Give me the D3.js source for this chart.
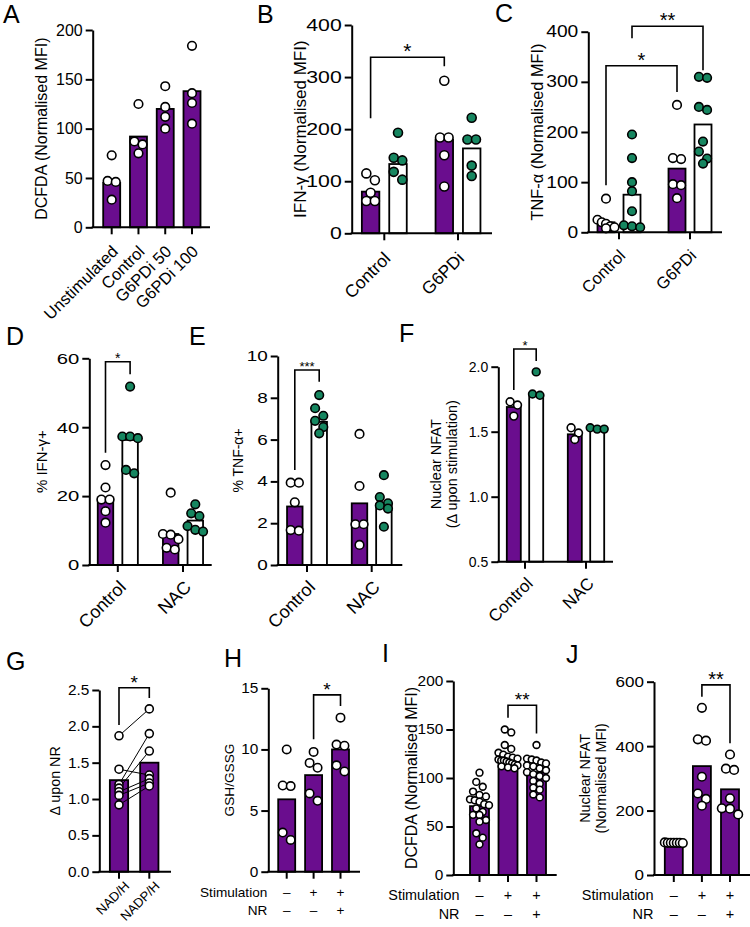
<!DOCTYPE html>
<html>
<head>
<meta charset="utf-8">
<script src="https://cdn.jsdelivr.net/npm/d3@7"></script>
<style>
  body { margin: 0; background: #fff; }
  text { font-family: "Liberation Sans", Arial, Helvetica, sans-serif; fill: #000; }
</style>
</head>
<body>
<svg id="fig" width="750" height="927"></svg>
<script>
// ---------- data ----------
// A: DCFDA
const catsA = ["Unstimulated", "Control", "G6PDi 50", "G6PDi 100"];
const meanA = [45, 92, 120, 138];
const ptsA = [[73, 47, 46, 28], [125, 87, 84, 75], [143, 122, 112, 100], [184, 136, 126, 105]];

// B: IFN-g (purple = first bar, white = second bar)
const catsBC = ["Control", "G6PDi"];
const meanB1 = [80, 180];
const meanB2 = [133, 163];
const ptsB1 = [[115, 102, 78, 62, 62], [293, 184, 184, 150, 90]];
const ptsB2 = [[193, 145, 140, 118, 103], [222, 180, 180, 130, 110]];

// C: TNF-a
const meanC1 = [20, 127];
const meanC2 = [75, 215];
const ptsC1 = [[67, 25, 20, 17, 12, 10, 8], [254, 148, 146, 96, 94, 68]];
const ptsC2 = [[195, 148, 100, 82, 42, 14, 12, 10], [308, 310, 250, 244, 181, 161, 147, 137]];

// D, E, F: Control / NAC
const catsDEF = ["Control", "NAC"];
const meanD1 = [19.6, 9];
const meanD2 = [36.3, 12.9];
const ptsD1 = [[29, 22.5, 19, 19, 15.6, 12.3], [21, 9, 8.8, 7.5, 5, 4.5]];
const ptsD2 = [[51.8, 37.3, 37.3, 36.8, 27.6, 26.6], [17.6, 15, 14.2, 11.3, 10.2, 9.7]];

const meanE1 = [2.8, 2.95];
const meanE2 = [6.85, 2.9];
const ptsE1 = [[3.94, 3.94, 3.0, 1.67, 1.64], [6.27, 3.78, 1.95, 1.95, 0.96]];
const ptsE2 = [[8.13, 7.5, 7.14, 6.9, 6.6, 6.3], [4.3, 3.25, 2.95, 2.85, 2.7, 1.83]];

const meanF1 = [1.69, 1.48];
const meanF2 = [1.78, 1.53];
const ptsF1 = [[1.73, 1.705, 1.62], [1.53, 1.49, 1.44]];
const ptsF2 = [[1.96, 1.78, 1.79], [1.52, 1.53, 1.52]];

// G: paired NAD/H vs NADP/H
const catsG = ["NAD/H", "NADP/H"];
const meanG = [1.26, 1.50];
const nadG = [1.87, 1.41, 1.20, 1.15, 1.10, 1.05, 0.92];
const nadpG = [2.24, 1.33, 1.90, 1.66, 1.28, 1.22, 1.18];

// H, I, J: stimulation / NR
const catsHIJ = ["none", "stim", "stimNR"];
const stimSigns = ["\u2013", "+", "+"];
const nrSigns = ["\u2013", "\u2013", "+"];

const meanH = [5.92, 7.9, 10.0];
const ptsH = [[10.0, 7.0, 7.05, 3.2, 2.6], [9.8, 8.9, 8.5, 6.4, 5.8], [12.6, 10.3, 10.4, 8.7, 8.2]];

const meanI = [71, 122, 106];
const ptsI = [
  [105.5, 96, 91, 86, 82.5, 81, 78, 77, 75.6, 73, 72, 68.7, 65, 62, 61.9, 56.7, 55, 43, 38.5, 31.6],
  [150, 147, 134, 130, 126, 124, 122, 121, 120, 119, 118, 118, 117, 116, 115, 114, 113, 112, 111, 110],
  [134, 120, 119, 118, 116, 115, 113, 112, 110, 108, 106, 104, 102, 100, 97, 94, 90, 88, 83, 80]
];

const meanJ = [100, 338, 266];
const ptsJ = [[101, 100, 100, 100, 100, 100, 99], [519, 421, 417, 305, 253, 236, 215], [374, 330, 326, 238, 207, 206, 188]];

// ---------- drawing ----------
const PURPLE = "#6a0d8e";
const GREEN = "#168660";
const svg = d3.select("#fig");

// GraphPad-like scatter: points close in y share a row, centred on the bar
function scatterRows(vals, y, cx, r, maxHalf) {
  const d = 2 * r;
  const items = vals.map(v => ({ v, py: y(v) })).sort((a, b) => a.py - b.py);
  const rows = [];
  items.forEach(it => {
    const row = rows[rows.length - 1];
    if (row && it.py - row[0].py < d * 0.9) row.push(it);
    else rows.push([it]);
  });
  const out = [];
  rows.forEach(row => {
    const n = row.length;
    let step = d * 0.95;
    if (n > 1 && (n - 1) * step / 2 > maxHalf) step = 2 * maxHalf / (n - 1);
    row.forEach((it, i) => out.push({ x: cx + (i - (n - 1) / 2) * step, y: it.py }));
  });
  return out;
}

function drawPanel(p) {
  const g = svg.append("g");
  const y = d3.scaleLinear().domain(p.domain).range([p.yBot, p.yTop]);
  const x = d3.scalePoint().domain(p.cats).range(p.catRange);
  const base = y(p.domain[0]);

  // bars
  p.series.forEach(s => {
    g.selectAll(null).data(p.cats).enter().append("rect")
      .attr("x", c => x(c) + s.off - p.barW / 2)
      .attr("y", (c, i) => y(s.means[i]))
      .attr("width", p.barW)
      .attr("height", (c, i) => base - y(s.means[i]))
      .attr("fill", s.fill)
      .attr("stroke", "#000")
      .attr("stroke-width", 1.8);
  });

  // paired lines (panel G)
  if (p.pairs) {
    const [a, b] = p.pairs;
    g.selectAll(null).data(a).enter().append("line")
      .attr("x1", x(p.cats[0])).attr("y1", d => y(d))
      .attr("x2", x(p.cats[1])).attr("y2", (d, i) => y(b[i]))
      .attr("stroke", "#000").attr("stroke-width", 1);
  }

  // points
  p.series.forEach(s => {
    p.cats.forEach((c, i) => {
      const pos = scatterRows(s.pts[i], y, x(c) + s.off, p.r, p.spread === undefined ? p.barW / 2 : p.spread);
      g.selectAll(null).data(pos).enter().append("circle")
        .attr("cx", d => d.x).attr("cy", d => d.y).attr("r", p.r)
        .attr("fill", s.dot).attr("stroke", "#000").attr("stroke-width", 1.6);
    });
  });

  // y axis
  const yAxis = d3.axisLeft(y).tickValues(p.ticks).tickSize(7).tickSizeOuter(0).tickPadding(3);
  if (p.fmt) yAxis.tickFormat(d3.format(p.fmt));
  const ya = g.append("g").attr("transform", `translate(${p.ax},0)`).call(yAxis);
  ya.select(".domain").attr("stroke-width", 2);
  ya.selectAll(".tick line").attr("stroke-width", 2);
  ya.selectAll(".tick text")
    .attr("font-size", p.fs)
    .attr("font-family", "Liberation Sans, Arial, sans-serif")
    .attr("fill", "#000")
    .attr("x", -10 / p.sx)
    .attr("transform", `scale(${p.sx},1)`);

  // x axis
  g.append("line").attr("x1", p.ax - 1).attr("x2", p.xEnd).attr("y1", base).attr("y2", base)
    .attr("stroke", "#000").attr("stroke-width", 2);
  g.selectAll(null).data(p.cats).enter().append("line")
    .attr("x1", c => x(c)).attr("x2", c => x(c)).attr("y1", base).attr("y2", base + 7)
    .attr("stroke", "#000").attr("stroke-width", 2);

  // x labels
  if (p.xlab) {
    g.selectAll(null).data(p.cats).enter().append("text")
      .attr("transform", c => `translate(${x(c) + p.xlab.dx},${base + p.xlab.dy}) rotate(-45)`)
      .attr("text-anchor", "end")
      .attr("dominant-baseline", "central")
      .attr("font-size", p.xlab.fs)
      .text(c => c);
  }
  if (p.signs) {
    const rows = [["Stimulation", stimSigns], ["NR", nrSigns]];
    rows.forEach(([lab, signs], k) => {
      const yy = p.signs.ys[k];
      g.append("text").attr("x", p.signs.lx).attr("y", yy)
        .attr("text-anchor", "end").attr("dominant-baseline", "central")
        .attr("font-size", p.signs.fs).text(lab);
      g.selectAll(null).data(signs).enter().append("text")
        .attr("x", (d, i) => x(p.cats[i])).attr("y", yy)
        .attr("text-anchor", "middle").attr("dominant-baseline", "central")
        .attr("font-size", p.signs.fs).text(d => d);
    });
  }

  // axis title
  p.title.forEach((t, k) => {
    g.append("text")
      .attr("transform", `translate(${p.titleX[k]},${(p.yBot + p.yTop) / 2}) rotate(-90)`)
      .attr("text-anchor", "middle")
      .attr("dominant-baseline", "central")
      .attr("font-size", p.titleFs)
      .text(t);
  });

  // significance brackets
  (p.brackets || []).forEach(b => {
    const x1 = x(p.cats[b.from[0]]) + p.series[b.from[1]].off;
    const x2 = x(p.cats[b.to[0]]) + p.series[b.to[1]].off;
    g.append("path")
      .attr("d", `M${x1},${y(b.y1)}V${y(b.top)}H${x2}V${y(b.y2)}`)
      .attr("fill", "none").attr("stroke", "#000").attr("stroke-width", 1.6);
    g.append("text").attr("x", (x1 + x2) / 2).attr("y", y(b.top) + 1)
      .attr("text-anchor", "middle").attr("font-size", b.fs).text(b.label);
  });

  // panel letter
  svg.append("text").attr("x", p.lx).attr("y", p.ly).attr("font-size", 25).text(p.letter);
}

const one = (means, pts) => [{ means, pts, off: 0, fill: PURPLE, dot: "#fff" }];
const two = (m1, p1, m2, p2, off) => [
  { means: m1, pts: p1, off: -off, fill: PURPLE, dot: "#fff" },
  { means: m2, pts: p2, off: off, fill: "#fff", dot: GREEN }
];

drawPanel({
  letter: "A", lx: 3, ly: 23, ax: 92.7, xEnd: 210, yBot: 227.3, yTop: 30,
  domain: [0, 200], ticks: [0, 50, 100, 150, 200], fs: 16, sx: 1.0,
  title: ["DCFDA (Normalised MFI)"], titleX: [41], titleFs: 16,
  cats: catsA, catRange: [111.7, 192], barW: 17, r: 4.3,
  series: one(meanA, ptsA), xlab: { dx: 3, dy: 21, fs: 16.5 }
});

drawPanel({
  letter: "B", lx: 257, ly: 23, ax: 351.7, xEnd: 492, yBot: 233.3, yTop: 25,
  domain: [0, 400], ticks: [0, 100, 200, 300, 400], fs: 17, sx: 1.25,
  title: ["IFN-\u03b3 (Normalised MFI)"], titleX: [300], titleFs: 17,
  cats: catsBC, catRange: [384.3, 458], barW: 17.5, r: 4.5,
  series: two(meanB1, ptsB1, meanB2, ptsB2, 13.7), xlab: { dx: 3, dy: 22, fs: 17.5 },
  brackets: [{ from: [0, 0], to: [1, 0], top: 338, y1: 221, y2: 321, label: "*", fs: 21 }]
});

drawPanel({
  letter: "C", lx: 495, ly: 22, ax: 588.3, xEnd: 722, yBot: 232.3, yTop: 31.7,
  domain: [0, 400], ticks: [0, 100, 200, 300, 400], fs: 16, sx: 1.2,
  title: ["TNF-\u03b1 (Normalised MFI)"], titleX: [536.7], titleFs: 16.3,
  cats: catsBC, catRange: [619, 690], barW: 17, r: 4.3,
  series: two(meanC1, ptsC1, meanC2, ptsC2, 13), xlab: { dx: 3, dy: 20, fs: 16.5 },
  brackets: [
    { from: [0, 0], to: [1, 0], top: 332, y1: 94, y2: 280, label: "*", fs: 20 },
    { from: [0, 1], to: [1, 1], top: 411, y1: 387, y2: 323, label: "**", fs: 20 }
  ]
});

drawPanel({
  letter: "D", lx: 6, ly: 345, ax: 89.3, xEnd: 211.7, yBot: 565, yTop: 358.3,
  domain: [0, 60], ticks: [0, 20, 40, 60], fs: 15, sx: 1.35,
  title: ["% IFN-\u03b3+"], titleX: [41], titleFs: 15,
  cats: catsDEF, catRange: [117.8, 183], barW: 15.5, r: 4.3,
  series: two(meanD1, ptsD1, meanD2, ptsD2, 12.3), xlab: { dx: 5, dy: 19, fs: 18 },
  brackets: [{ from: [0, 0], to: [0, 1], top: 59, y1: 32.6, y2: 55.4, label: "*", fs: 14 }]
});

drawPanel({
  letter: "E", lx: 189, ly: 345, ax: 277.7, xEnd: 402.3, yBot: 565, yTop: 356,
  domain: [0, 10], ticks: [0, 2, 4, 6, 8, 10], fs: 14, sx: 1.35,
  title: ["% TNF-\u03b1+"], titleX: [238], titleFs: 14,
  cats: catsDEF, catRange: [307, 371.7], barW: 15.5, r: 4.3,
  series: two(meanE1, ptsE1, meanE2, ptsE2, 12.2), xlab: { dx: 5, dy: 19, fs: 18 },
  brackets: [{ from: [0, 0], to: [0, 1], top: 9.33, y1: 4.55, y2: 8.77, label: "***", fs: 13 }]
});

drawPanel({
  letter: "F", lx: 399, ly: 342, ax: 498.3, xEnd: 613, yBot: 561.7, yTop: 366.7,
  domain: [0.5, 2.0], ticks: [0.5, 1.0, 1.5, 2.0], fmt: ".1f", fs: 14, sx: 1.0,
  title: ["Nuclear NFAT", "(\u0394 upon stimulation)"], titleX: [435.7, 451.5], titleFs: 14.5,
  cats: catsDEF, catRange: [525, 586], barW: 14, r: 3.9,
  series: two(meanF1, ptsF1, meanF2, ptsF2, 11.2), xlab: { dx: 5, dy: 19, fs: 17 },
  brackets: [{ from: [0, 0], to: [0, 1], top: 2.136, y1: 1.82, y2: 2.044, label: "*", fs: 13 }]
});

drawPanel({
  letter: "G", lx: 6, ly: 670, ax: 99.3, xEnd: 171, yBot: 871.7, yTop: 690,
  domain: [0, 2.5], ticks: [0, 0.5, 1, 1.5, 2, 2.5], fmt: ".1f", fs: 14, sx: 1.1,
  title: ["\u0394 upon NR"], titleX: [54.5], titleFs: 14.3,
  cats: catsG, catRange: [119, 149.3], barW: 18.3, r: 4, spread: 0,
  series: one(meanG, [nadG, nadpG]), pairs: [nadG, nadpG], xlab: { dx: 8, dy: 12, fs: 13 },
  brackets: [{ from: [0, 0], to: [1, 0], top: 2.53, y1: 2.02, y2: 2.39, label: "*", fs: 19 }]
});

drawPanel({
  letter: "H", lx: 224, ly: 667, ax: 268.3, xEnd: 360, yBot: 871.7, yTop: 688.3,
  domain: [0, 15], ticks: [0, 5, 10, 15], fs: 14, sx: 1.1,
  title: ["GSH/GSSG"], titleX: [229], titleFs: 13.7,
  cats: catsHIJ, catRange: [286.7, 340.5], barW: 17, r: 4.2,
  series: one(meanH, ptsH), signs: { lx: 267.3, ys: [892, 910.5], fs: 13.6 },
  brackets: [{ from: [1, 0], to: [2, 0], top: 14.46, y1: 10.83, y2: 13.55, label: "*", fs: 19 }]
});

drawPanel({
  letter: "I", lx: 382, ly: 662, ax: 453.3, xEnd: 556.7, yBot: 875, yTop: 681,
  domain: [0, 200], ticks: [0, 50, 100, 150, 200], fs: 14, sx: 1.1,
  title: ["DCFDA (Normalised MFI)"], titleX: [411.7], titleFs: 16,
  cats: catsHIJ, catRange: [479.5, 536.5], barW: 19, r: 3.4,
  series: one(meanI, ptsI), signs: { lx: 459.5, ys: [895, 914], fs: 14.4 },
  brackets: [{ from: [1, 0], to: [2, 0], top: 175, y1: 162, y2: 146, label: "**", fs: 19 }]
});

drawPanel({
  letter: "J", lx: 566, ly: 663, ax: 654, xEnd: 750, yBot: 875, yTop: 681.7,
  domain: [0, 600], ticks: [0, 200, 400, 600], fs: 15.5, sx: 1.1,
  title: ["Nuclear NFAT", "(Normalised MFI)"], titleX: [585, 600.5], titleFs: 14.3,
  cats: catsHIJ, catRange: [673.8, 730], barW: 18, r: 4.3,
  series: one(meanJ, ptsJ), signs: { lx: 653.5, ys: [895, 914], fs: 14.5 },
  brackets: [{ from: [1, 0], to: [2, 0], top: 590, y1: 553, y2: 409, label: "**", fs: 20 }]
});
</script>
</body>
</html>
